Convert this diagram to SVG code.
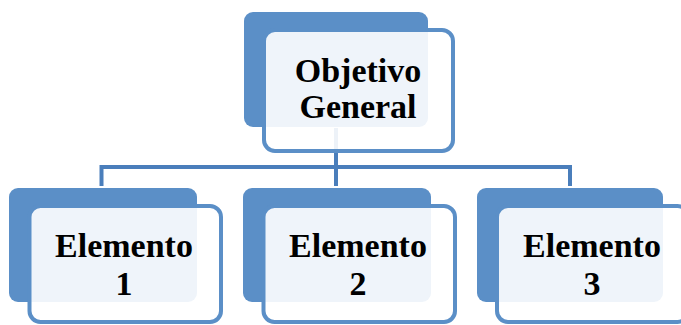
<svg xmlns="http://www.w3.org/2000/svg" width="681" height="325" viewBox="0 0 681 325">
<style>
.back{fill:#5B8FC7}
.front{fill:#FFFFFF;fill-opacity:0.9;stroke:#5B8FC7;stroke-width:4}
.conn{fill:none;stroke:#4A7EBB;stroke-width:4}
text{font-family:"Liberation Serif","Times New Roman",serif;font-weight:bold;font-size:34px;fill:#000;text-anchor:middle}
</style>
<rect width="681" height="325" fill="#FFFFFF"/>
<g id="connectors">
<path class="conn" d="M336 128 V167 M101.5 186 V167 H570 V186 M336 167 V186"/>
</g>
<g id="objetivo">
<rect class="back" x="244" y="12" width="184" height="115" rx="9"/>
<rect class="front" x="264" y="30" width="189" height="121" rx="11"/>
<text x="358" y="82">Objetivo</text>
<text x="358" y="118">General</text>
</g>
<g id="elemento1">
<rect class="back" x="9" y="188" width="188" height="114" rx="9"/>
<rect class="front" x="29.5" y="206" width="191.5" height="116" rx="11"/>
<text x="124" y="257">Elemento</text>
<text x="124" y="295">1</text>
</g>
<g id="elemento2">
<rect class="back" x="243" y="188" width="188" height="114" rx="9"/>
<rect class="front" x="263.5" y="206" width="191.5" height="116" rx="11"/>
<text x="358" y="257">Elemento</text>
<text x="358" y="295">2</text>
</g>
<g id="elemento3">
<rect class="back" x="477" y="188" width="186" height="114" rx="9"/>
<rect class="front" x="497" y="206" width="191.5" height="116" rx="11"/>
<text x="592" y="257">Elemento</text>
<text x="592" y="295">3</text>
</g>
</svg>
